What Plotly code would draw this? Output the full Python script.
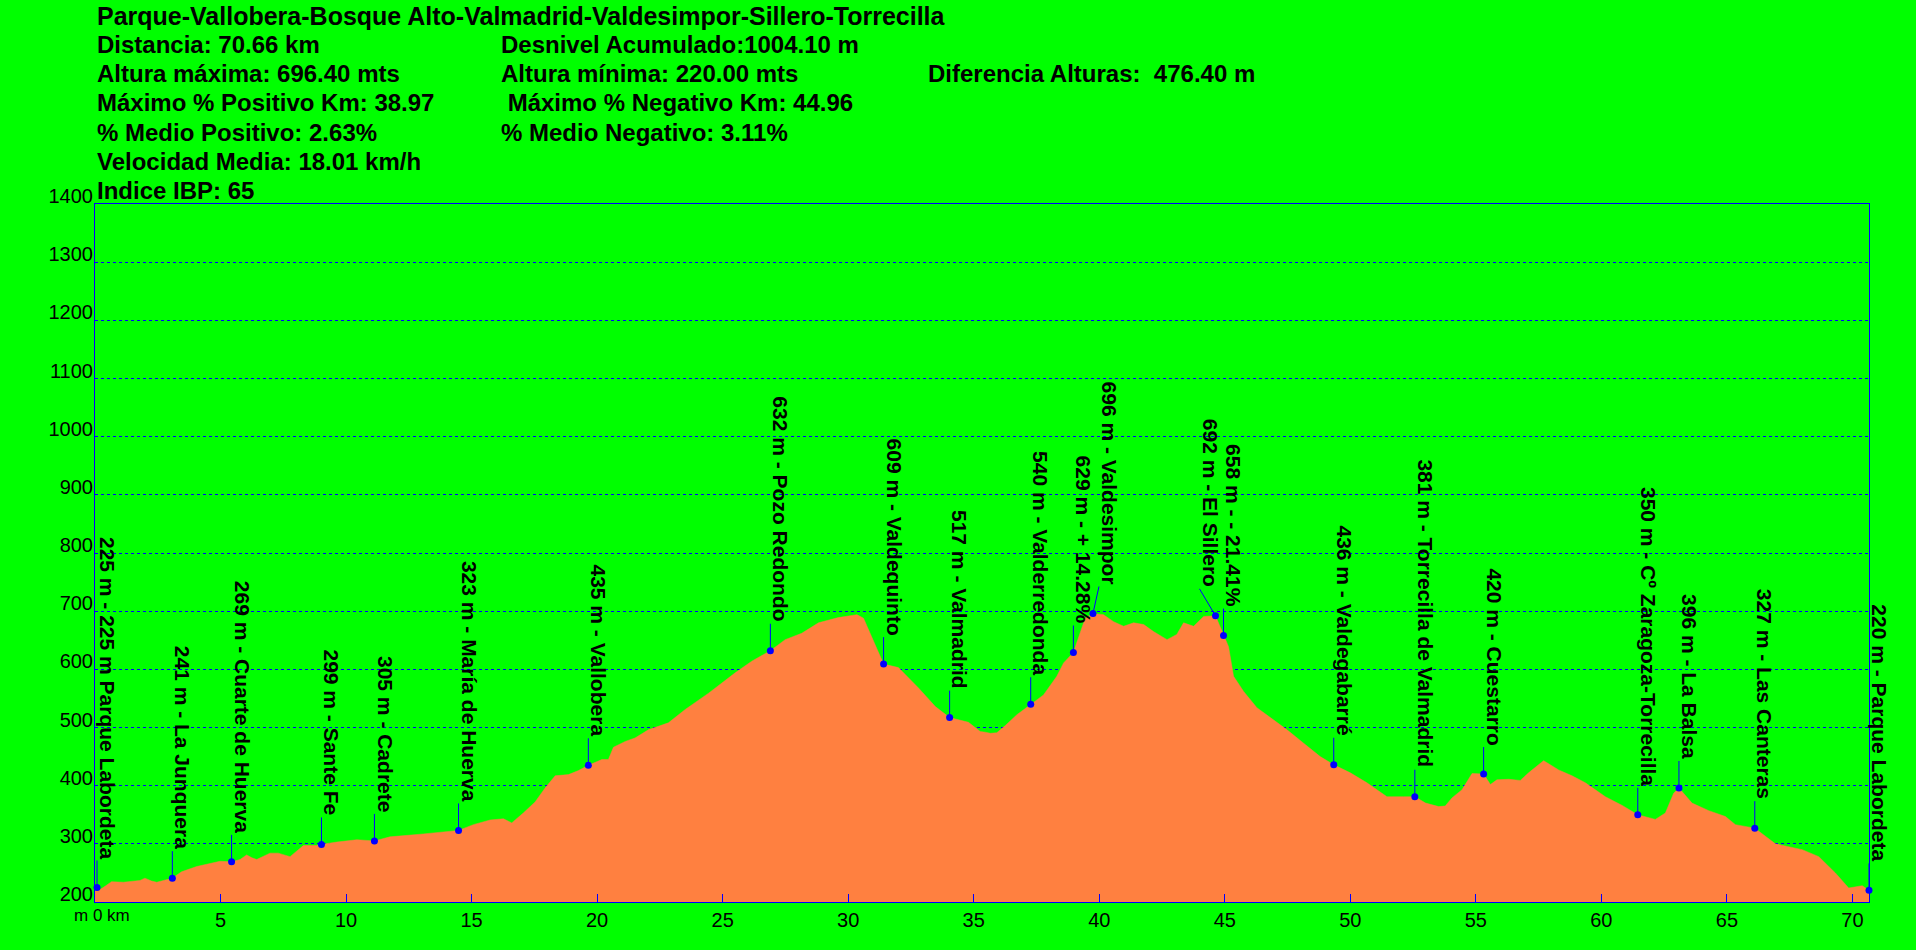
import plotly.graph_objects as go

# ---------------- data ----------------
dist_km = [0.0, 0.15, 0.40, 0.66, 1.13, 1.50, 1.79, 1.99, 2.25, 2.46, 2.86, 3.08, 3.45, 4.05, 4.98,
           5.44, 5.78, 6.04, 6.25, 6.44, 6.97, 7.30, 7.77, 8.30, 8.83, 9.02, 9.63, 10.43, 11.13, 11.75,
           13.08, 14.48, 15.07, 15.74, 16.27, 16.60, 17.06, 17.53, 17.93, 18.33, 18.86, 19.26, 19.65,
           20.19, 20.45, 20.65, 21.12, 21.51, 22.04, 22.84, 23.51, 24.44, 25.50, 26.16, 26.90, 27.49,
           28.15, 28.82, 29.61, 30.35, 30.61, 31.08, 31.41, 32.00, 32.80, 33.47, 34.04, 34.79, 35.26,
           35.46, 35.66, 35.92, 36.25, 36.72, 37.27, 37.78, 38.31, 38.58, 38.97, 39.18, 39.44, 39.75,
           40.17, 40.57, 40.97, 41.37, 41.77, 42.16, 42.70, 43.09, 43.36, 43.76, 44.16, 44.63, 44.95,
           45.15, 45.35, 45.75, 46.28, 46.95, 47.48, 48.14, 48.80, 49.34, 50.00, 50.66, 51.46, 52.12,
           52.57, 53.00, 53.52, 53.78, 54.05, 54.45, 54.85, 55.31, 55.58, 55.84, 56.31, 56.77, 57.10,
           57.70, 58.30, 58.83, 59.36, 60.16, 60.83, 61.45, 62.15, 62.55, 62.88, 63.09, 63.61, 64.28,
           64.94, 65.34, 66.11, 66.93, 68.00, 68.66, 69.32, 69.85, 70.39, 70.66]
elev_m = [225, 220, 227, 235, 234, 236, 237, 241, 236, 234, 239, 241, 252, 261, 270,
          269, 273, 281, 276, 273, 284, 284, 278, 297, 297, 299, 303, 307, 305, 312,
          317, 323, 333, 341, 343, 336, 353, 372, 396, 417, 419, 426, 435,
          445, 445, 466, 476, 482, 496, 508, 531, 559, 594, 614, 632, 651,
          662, 680, 689, 694, 688, 640, 609, 603, 568, 536, 517, 509, 493,
          492, 490, 491, 503, 522, 540, 556, 588, 611, 629, 657, 688, 696,
          694, 682, 674, 680, 677, 665, 651, 660, 680, 674, 691, 692, 658,
          639, 588, 562, 534, 513, 496, 473, 450, 436, 422, 405, 381, 381,
          381, 370, 364, 365, 379, 393, 421, 420, 402, 410, 411, 409, 422,
          443, 427, 417, 405, 381, 366, 350, 342, 353, 387, 396, 370, 357,
          347, 333, 327, 300, 290, 278, 250, 224, 228, 220]

poi_km = [0.08, 3.08, 5.44, 9.02, 11.13, 14.48, 19.65, 26.90, 31.41, 34.04, 37.27, 38.97, 39.75,
          44.63, 44.95, 49.34, 52.57, 55.31, 61.45, 63.09, 66.11, 70.66]
poi_elev = [225, 241, 269, 299, 305, 323, 435, 632, 609, 517, 540, 629, 696,
            692, 658, 436, 381, 420, 350, 396, 327, 220]
poi_labels = ["225 m - 225 m Parque Labordeta", "241 m - La Junquera", "269 m - Cuarte de Huerva",
              "299 m - Sante Fe", "305 m - Cadrete", "323 m - María de Huerva", "435 m - Vallobera",
              "632 m - Pozo Redondo", "609 m - Valdequinto", "517 m - Valmadrid",
              "540 m - Valderredonda", "629 m - + 14.28%", "696 m - Valdesimpor",
              "692 m - El Sillero", "658 m - - 21.41%", "436 m - Valdegabarré",
              "381 m - Torrecilla de Valmadrid", "420 m - Cuestarro",
              "350 m - Cº Zaragoza-Torrecilla", "396 m - La Balsa", "327 m - Las Canteras",
              "220 m - Parque Labordeta"]
# horizontal nudges (px) of labels that would overlap
label_nudge_px = {12: 6, 13: -16}

y_ticks = [200, 300, 400, 500, 600, 700, 800, 900, 1000, 1100, 1200, 1300, 1400]
x_ticks = [5, 10, 15, 20, 25, 30, 35, 40, 45, 50, 55, 60, 65, 70]
x_tick_text = ["5", "10", "15", "20", "25", "30", "35", "40", "45", "50", "55", "60", "65", "70"]

title_text = "Parque-Vallobera-Bosque Alto-Valmadrid-Valdesimpor-Sillero-Torrecilla"
header_col1 = ["Distancia: 70.66 km", "Altura máxima: 696.40 mts", "Máximo % Positivo Km: 38.97",
               "% Medio Positivo: 2.63%", "Velocidad Media: 18.01 km/h", "Indice IBP: 65"]
header_col2 = ["Desnivel Acumulado:1004.10 m", "Altura mínima: 220.00 mts", " Máximo % Negativo Km: 44.96",
               "% Medio Negativo: 3.11%"]
header_col3 = ["", "Diferencia Alturas: \u00a0476.40 m"]

# ---------------- layout constants ----------------
W, H = 1916, 950
L, R, T, B = 95, 47, 204, 48
PW, PH = W - L - R, H - T - B
X_MAX = 70.66
Y_MIN, Y_MAX = 200, 1400
px_per_km = PW / X_MAX
px_per_m = PH / (Y_MAX - Y_MIN)

GREEN = "#00FF00"
ORANGE = "#FF8040"
BLUE = "#0000FF"
FONT = "Liberation Sans"

def paper_x(px):
    return (px - L) / PW

def paper_y(py):
    return (H - B - py) / PH

fig = go.Figure()

fig.add_trace(go.Scatter(x=dist_km, y=elev_m, mode="lines", fill="tozeroy",
                         fillcolor=ORANGE, line=dict(color=ORANGE, width=0.5),
                         hoverinfo="skip", showlegend=False))

# leader lines
LEAD_PX = 27
lx, ly = [], []
for i, (k, e) in enumerate(zip(poi_km, poi_elev)):
    dx = label_nudge_px.get(i, 0) / px_per_km
    lx += [k, k + dx, None]
    ly += [e, e + LEAD_PX / px_per_m, None]
fig.add_trace(go.Scatter(x=lx, y=ly, mode="lines", line=dict(color=BLUE, width=1),
                         hoverinfo="skip", showlegend=False, cliponaxis=False))

fig.add_trace(go.Scatter(x=poi_km, y=poi_elev, mode="markers",
                         marker=dict(color=BLUE, size=7), cliponaxis=False,
                         showlegend=False))

annotations = []
for i, (k, e, t) in enumerate(zip(poi_km, poi_elev, poi_labels)):
    annotations.append(dict(x=k, y=e, xref="x", yref="y", text=t, showarrow=False,
                            textangle=90, xanchor="left", yanchor="bottom",
                            xshift=label_nudge_px.get(i, 0) - 3, yshift=LEAD_PX,
                            font=dict(family=FONT, size=21, color="black", weight="bold")))

hdr_font = dict(family=FONT, size=24, color="black", weight="bold")
row_y = [16, 45, 74, 103, 132, 161, 190]
annotations.append(dict(x=paper_x(95), y=paper_y(row_y[0]), xref="paper", yref="paper",
                        text=title_text, showarrow=False, xanchor="left", yanchor="middle",
                        font=dict(family=FONT, size=25, color="black", weight="bold")))
for j, t in enumerate(header_col1):
    annotations.append(dict(x=paper_x(95), y=paper_y(row_y[j + 1]), xref="paper", yref="paper",
                            text=t, showarrow=False, xanchor="left", yanchor="middle", font=hdr_font))
for j, t in enumerate(header_col2):
    annotations.append(dict(x=paper_x(499), y=paper_y(row_y[j + 1]), xref="paper", yref="paper",
                            text=t, showarrow=False, xanchor="left", yanchor="middle", font=hdr_font))
for j, t in enumerate(header_col3):
    if t:
        annotations.append(dict(x=paper_x(926), y=paper_y(row_y[j + 1]), xref="paper", yref="paper",
                                text=t, showarrow=False, xanchor="left", yanchor="middle", font=hdr_font))

annotations.append(dict(x=0, y=0, xref="x", yref="paper", text="m 0 km", showarrow=False,
                        xanchor="center", yanchor="top", xshift=7, yshift=-2,
                        font=dict(family=FONT, size=17, color="black")))

fig.update_layout(
    width=W, height=H,
    margin=dict(l=L, r=R, t=T, b=B, pad=0),
    paper_bgcolor=GREEN, plot_bgcolor=GREEN,
    showlegend=False,
    annotations=annotations,
    xaxis=dict(range=[0, X_MAX], tickvals=x_ticks, ticktext=x_tick_text,
               ticks="inside", ticklen=8, tickcolor=BLUE, tickwidth=1,
               showgrid=False, zeroline=False, showline=True, mirror=True,
               linecolor=BLUE, linewidth=1,
               tickfont=dict(family=FONT, size=20, color="black")),
    yaxis=dict(range=[Y_MIN, Y_MAX], tickvals=y_ticks, ticks="",
               showgrid=True, gridcolor=BLUE, gridwidth=1, griddash="3px,3px",
               zeroline=False, showline=True, mirror=True, linecolor=BLUE, linewidth=1,
               ticklabelstandoff=-3, ticklabelshift=-8,
               tickfont=dict(family=FONT, size=20, color="black")),
)

fig.write_html("out.html", config={"displayModeBar": False},
               post_script="document.body.style.margin='0px';document.body.style.overflow='hidden';")
